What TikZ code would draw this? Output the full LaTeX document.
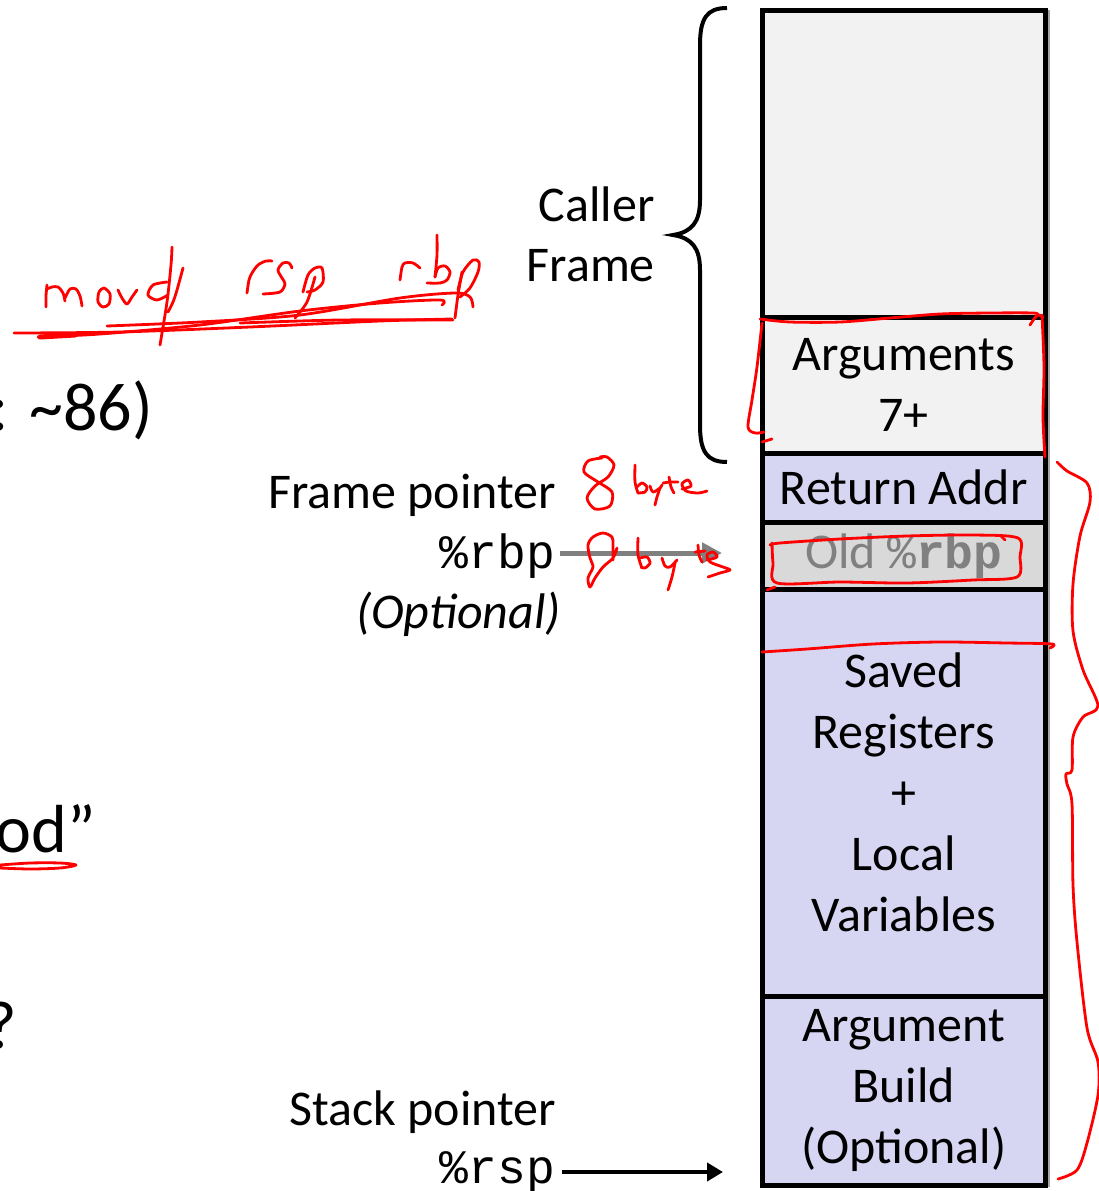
\documentclass[tikz,border=0pt]{standalone}
\usepackage{fontspec}
\setmainfont{Carlito}
\setmonofont{Liberation Mono}
\usetikzlibrary{arrows.meta}

\definecolor{framegray}{HTML}{F2F2F2}
\definecolor{lav}{HTML}{D6D6F3}
\definecolor{oldgray}{HTML}{D9D9D9}
\definecolor{ptrgray}{HTML}{808080}
\definecolor{inkred}{HTML}{FF0000}

\begin{document}
\begin{tikzpicture}[x=1pt,y=-1pt,
  cell/.style={draw=black, line width=5pt, minimum width=282.5pt, inner sep=0pt,
    outer sep=0pt, align=center, font=\fontsize{50pt}{61pt}\selectfont},
  lbl/.style={inner sep=0pt, outer sep=0pt, anchor=base east,
    font=\fontsize{50pt}{60pt}\selectfont},
  reglbl/.style={inner sep=0pt, outer sep=0pt, anchor=base east,
    font=\fontsize{48pt}{58pt}\selectfont\ttfamily},
  bigtext/.style={inner sep=0pt, outer sep=0pt, anchor=base east,
    font=\fontsize{68pt}{80pt}\selectfont},
  inkline/.style={draw=inkred, line width=2.8pt, line cap=round, line join=round},
]
\useasboundingbox (0,0) rectangle (1099,1191);

% ---- stack column ----
\draw[black!35, line width=2pt] (1048.5,10) -- (1048.5,1187);
\node[cell, fill=framegray, minimum height=307pt] (caller) at (903.75,163.5) {};
\node[cell, fill=framegray, minimum height=136.5pt] (args) at (903.75,385.25) {Arguments\\7+};
\node[cell, fill=lav, minimum height=68.5pt] (ret) at (903.75,487.75) {Return Addr};
\node[cell, fill=oldgray, minimum height=67.5pt, text=ptrgray] (old) at (903.75,555.75)
  {Old {\fontsize{48pt}{58pt}\selectfont\ttfamily\%\bfseries rbp}};
\node[cell, fill=lav, minimum height=406.5pt] (saved) at (903.75,792.75)
  {Saved\\Registers\\+\\Local\\Variables};
\node[cell, fill=lav, minimum height=189pt] (build) at (903.75,1090.5)
  {Argument\\Build\\(Optional)};

% ---- caller frame brace ----
\draw[line width=4pt] (727,8) .. controls (707,8) and (700,18) .. (700,45) -- (700,200)
  .. controls (700,222) and (692,232) .. (673,235)
  .. controls (692,238) and (700,248) .. (700,270) -- (700,425)
  .. controls (700,452) and (707,462) .. (727,462);
\node[inner sep=0pt, anchor=east, align=right, font=\fontsize{50pt}{60pt}\selectfont]
  (callerlbl) at (655,234) {Caller\\Frame};

% ---- pointer labels ----
\node[lbl] (fplbl) at (556,508) {Frame pointer};
\node[reglbl] (rbplbl) at (555,568) {\%rbp};
\node[lbl, font=\fontsize{50pt}{60pt}\selectfont\itshape] (optlbl) at (561,628) {(Optional)};
\node[lbl] (splbl) at (556,1125) {Stack pointer};
\node[reglbl] (rsplbl) at (555,1183) {\%rsp};

\coordinate (rbptip) at (722,553);
\coordinate (rsptip) at (723,1172);
\draw[line width=5pt, ptrgray, shorten <=5pt, -{Triangle[length=20pt,width=20pt]}]
  (rbplbl.east |- rbptip) -- (rbptip);
\draw[line width=4pt, black, shorten <=7pt, -{Triangle[length=16pt,width=18pt]}]
  (rsplbl.east |- rsptip) -- (rsptip);

% ---- text running in from the left ----
\node[bigtext] (cuta) at (153,430) {: \textasciitilde86)};
\node[bigtext] (cutb) at (96,852) {od”};
\node[bigtext] (cutc) at (17,1048) {?};

% ---- ink: movq rsp rbp ----
\draw[inkline] plot[smooth] coordinates {(46,307) (46,296) (47,285)};
\draw[inkline] plot[smooth] coordinates {(47,289) (52,287) (58,287) (63,293) (65,301)};
\draw[inkline] plot[smooth] coordinates {(65,298) (70,289) (76,289) (80,296) (82,306)};
\draw[inkline] plot[smooth cycle] coordinates {(104,288) (110,294) (109,304) (103,307) (98,302) (99,292)};
\draw[inkline] plot[smooth] coordinates {(118,290) (122,298) (127,304) (132,297) (137,290)};
\draw[inkline] plot[smooth] coordinates {(167,282) (153,285) (148,295) (157,300) (168,295)};
\draw[inkline] plot[smooth] coordinates {(172,247) (171,265) (167,302) (160,345)};
\draw[inkline] plot[smooth] coordinates {(183,268) (177,290) (173,302) (168,312)};
\draw[inkline] plot[smooth] coordinates {(247,293) (249,280) (252,273) (258,265) (266,261) (272,261)};
\draw[inkline] plot[smooth] coordinates {(292,268) (289,263) (283,263) (278,270) (282,278) (285,284) (280,292) (263,294)};
\draw[inkline] plot[smooth] coordinates {(315,277) (307,302) (295,318)};
\draw[inkline] plot[smooth] coordinates {(303,292) (308,275) (315,268) (322,268) (323,282) (315,290) (307,292)};
\draw[inkline] plot[smooth] coordinates {(400,280) (402,267) (405,263) (413,263) (420,268)};
\draw[inkline] plot[smooth] coordinates {(437,235) (437,255) (435,277)};
\draw[inkline] plot[smooth] coordinates {(435,277) (438,268) (445,266) (450,272) (447,280) (440,283) (427,283)};
\draw[inkline] plot[smooth] coordinates {(462,272) (458,295) (455,318)};
\draw[inkline] plot[smooth] coordinates {(458,290) (463,272) (473,260) (479,262) (478,272) (470,288) (460,297)};
% underline strokes
\draw[inkline] plot[smooth] coordinates {(14,333) (120,332) (250,327) (380,321) (452,319)};
\draw[inkline] plot[smooth] coordinates {(38,337) (100,334) (200,325) (300,311) (380,303) (440,300) (442,305)};
\draw[inkline] plot[smooth] coordinates {(107,326) (200,322) (300,315) (400,298) (455,293) (470,297) (473,307)};
\draw[inkline] plot[smooth] coordinates {(240,323) (340,320) (453,320)};
\draw[inkred, line width=5pt, line cap=round] (40,337) -- (75,335);

% ---- ink: 8 byte (upper) ----
\draw[inkline] plot[smooth] coordinates {(602,458) (588,461) (584,472) (598,482) (612,492) (610,506) (595,509) (587,498) (595,486) (608,477) (614,465) (607,457) (600,457)};
\draw[inkline] plot[smooth] coordinates {(635,465) (635,482) (638,493)};
\draw[inkline] plot[smooth] coordinates {(637,487) (642,483) (647,487) (645,492) (638,493)};
\draw[inkline] plot[smooth] coordinates {(650,486) (653,492) (660,488) (662,485)};
\draw[inkline] plot[smooth] coordinates {(660,488) (657,497) (655,505)};
\draw[inkline] plot[smooth] coordinates {(669,477) (671,487) (674,493)};
\draw[inkline] plot[smooth] coordinates {(663,483) (670,482) (678,482)};
\draw[inkline] plot[smooth] coordinates {(682,489) (691,486) (688,480) (682,484) (686,491) (698,493) (707,491)};

% ---- ink: 8 byte (lower) ----
\draw[inkline] plot[smooth] coordinates {(613,560) (613,545) (612,537) (603,533) (593,537) (588,545) (590,558) (593,567) (588,578) (590,587) (595,578) (603,567) (613,558) (617,548)};
\draw[inkline] plot[smooth] coordinates {(638,538) (638,555) (642,568)};
\draw[inkline] plot[smooth] coordinates {(640,558) (647,557) (650,563) (645,568) (641,567)};
\draw[inkline] plot[smooth] coordinates {(662,558) (665,566) (670,567) (677,560)};
\draw[inkline] plot[smooth] coordinates {(675,563) (672,577) (668,590)};
\draw[inkline] plot[smooth] coordinates {(698,545) (699,555) (702,562)};
\draw[inkline] plot[smooth] coordinates {(695,552) (705,551)};
\draw[inkline] plot[smooth] coordinates {(707,560) (717,557) (713,552) (707,555) (710,562) (723,567) (730,570) (720,573) (708,577)};

% ---- ink: box round the arguments ----
\draw[inkline] plot[smooth] coordinates {(760,319) (790,322) (840,322) (890,318) (940,314) (990,313) (1033,313) (1038,315)};
\draw[inkline] plot[smooth] coordinates {(1030,325) (1034,319) (1038,315) (1043,317)};
\draw[inkline] plot[smooth] coordinates {(1042,315) (1044,367) (1043,417) (1045,457)};
\draw[inkline] plot[smooth] coordinates {(762,323) (757,367) (752,400) (748,427) (755,433) (764,432)};
\draw[inkline] (762,442) -- (772,439);

% ---- ink: loop round the old frame pointer ----
\draw[inkline] plot[smooth] coordinates {(772,543) (773,563) (777,583) (840,582) (907,583) (973,580) (1017,577) (1020,557) (1018,538) (973,535) (907,536) (840,539) (780,543) (770,545)};
\draw[inkline] (1000,535) -- (1005,540);
\draw[inkline] (767,590) -- (775,587);

% ---- ink: line through the saved-registers area ----
\draw[inkline] plot[smooth] coordinates {(762,652) (807,649) (873,644) (940,642) (1007,643) (1052,644) (1050,648)};

% ---- ink: brace along the callee frame ----
\draw[inkline] plot[smooth] coordinates {(1057,462) (1067,471) (1087,483) (1090,502) (1080,536) (1073,584) (1073,631) (1083,670) (1098,706) (1083,717) (1073,737) (1072,770) (1066,774) (1067,784) (1072,804) (1073,885) (1077,942) (1087,1028) (1098,1062) (1098,1095) (1087,1143) (1077,1170) (1058,1179)};

% ---- ink: underline ----
\draw[inkline] plot[smooth] coordinates {(0,865) (30,863) (60,863) (76,865) (60,868) (30,869) (0,868)};

\end{tikzpicture}
\end{document}
